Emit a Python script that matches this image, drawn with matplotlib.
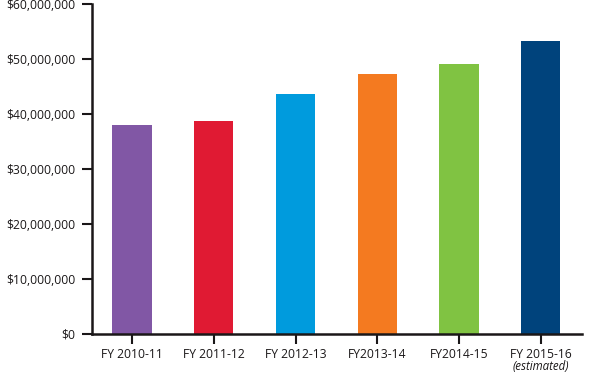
import matplotlib
matplotlib.use('Agg')
import matplotlib.pyplot as plt
import matplotlib.transforms as mtransforms
from matplotlib.ticker import FuncFormatter

# values
years = ['FY 2010-11', 'FY 2011-12', 'FY 2012-13', 'FY2013-14', 'FY2014-15', 'FY 2015-16']
funding = [37.9e6, 38.7e6, 43.6e6, 47.3e6, 49.0e6, 53.3e6]
colors = ['#8157A5', '#E01A33', '#009BDD', '#F47A20', '#80C342', '#00437C']

plt.rcParams['font.family'] = ['Open Sans', 'DejaVu Sans']

fig = plt.figure(figsize=(5.9, 3.91), dpi=100)
ax = fig.add_axes([0.156, 0.146, 0.831, 0.844])

x = list(range(len(years)))
ax.bar(x, funding, width=0.48, color=colors)

ax.set_xlim(-0.49, 5.51)
ax.set_ylim(0, 60e6)
ax.set_yticks([0, 10e6, 20e6, 30e6, 40e6, 50e6, 60e6])
ax.yaxis.set_major_formatter(FuncFormatter(lambda v, p: '${:,.0f}'.format(v)))
ax.set_xticks(x)
ax.set_xticklabels(years)

for s in ['top', 'right']:
    ax.spines[s].set_visible(False)
for s in ['left', 'bottom']:
    ax.spines[s].set_linewidth(1.8)
    ax.spines[s].set_color('#1a1718')

ax.tick_params(axis='y', direction='out', length=7, width=1.5, pad=5, labelsize=8.7, colors='#1a1718')
ax.tick_params(axis='x', direction='out', length=7, width=1.5, pad=3, labelsize=8.7, colors='#1a1718')

trans = mtransforms.blended_transform_factory(ax.transData, ax.transAxes)
ax.annotate('(estimated)', xy=(5, 0), xycoords=trans, xytext=(0, -28),
            textcoords='offset points', ha='center', va='bottom',
            fontsize=8.3, style='italic', color='#1a1718')

fig.savefig('out.png', dpi=100)
